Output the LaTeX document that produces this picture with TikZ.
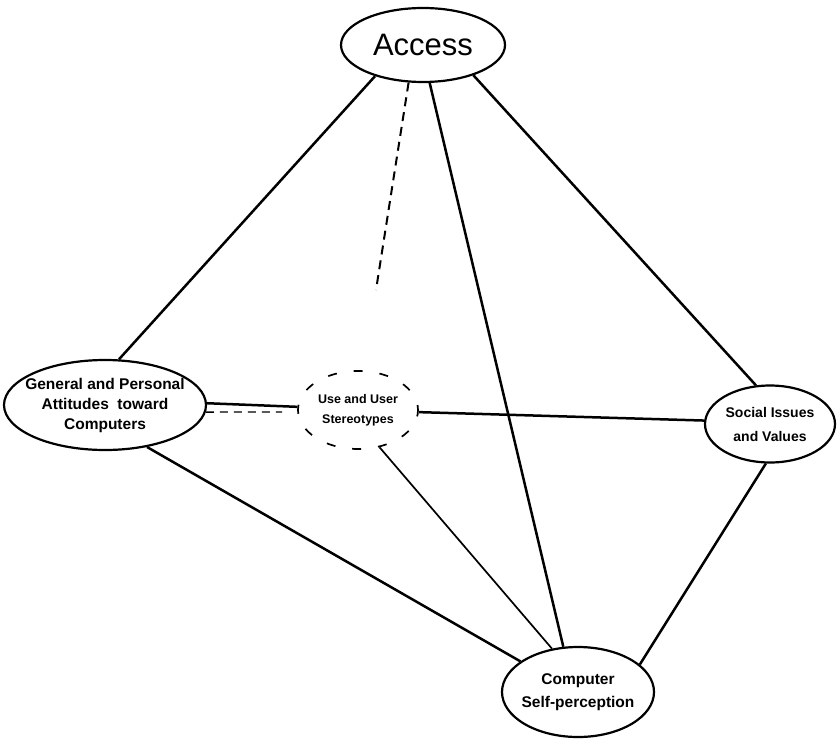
\documentclass[tikz,border=0pt]{standalone}
\usepackage{fontspec}
\setmainfont{Liberation Sans}
\usetikzlibrary{shapes.geometric}
\begin{document}
\begin{tikzpicture}[x=1pt,y=-1pt,
  oval/.style={ellipse,draw,line width=2.2pt,inner sep=0pt,align=center},
  link/.style={line width=2.5pt},
  thinlink/.style={line width=1.7pt},
  dashlink/.style={line width=2pt,dash pattern=on 9pt off 6pt}]
\useasboundingbox (0,0) rectangle (837,741);
\node[oval,minimum width=164pt,minimum height=74pt,font=\fontsize{31}{36}\selectfont] (acc) at (423,45) {Access};
\node[oval,inner xsep=-12pt,minimum width=202pt,minimum height=90pt,font=\bfseries\fontsize{15.5}{20}\selectfont] (gen) at (105,405) {General and Personal\\Attitudes\ \ toward\\Computers};
\node[ellipse,draw,line width=1.7pt,dash pattern=on 9pt off 17pt,dash phase=4pt,inner sep=0pt,align=center,minimum width=120pt,minimum height=78pt,font=\bfseries\fontsize{12.5}{20}\selectfont] (use) at (358,410) {Use and User\\Stereotypes};
\node[oval,minimum width=130pt,minimum height=77pt,font=\bfseries\fontsize{14}{24}\selectfont] (soc) at (770,424) {Social Issues\\and Values};
\node[oval,inner xsep=-6pt,minimum width=152pt,minimum height=90pt,font=\bfseries\fontsize{15.5}{23}\selectfont] (cmp) at (578,692) {Computer\\Self-perception};
\coordinate (dend) at (376,290);
\coordinate (gend) at (282,412);
\draw[link] (acc.213.4) -- (gen.73.9);
\draw[dashlink] (acc.249) -- (dend);
\draw[link] (acc.280.4) -- (cmp.108.4);
\draw[link] (acc.329.3) -- (soc.110.2);
\draw[link] (gen.1.7) -- (use.177);
\draw[line width=1.4pt,dash pattern=on 8pt off 6pt] (gen.356.6) -- (gend);
\draw[link] (use.358) -- (soc.177.3);
\draw[thinlink] (use.300.8) -- (cmp.121.5);
\draw[link] (gen.315) -- (cmp.152.6);
\draw[link] (soc.264.3) -- (cmp.24.2);
\end{tikzpicture}
\end{document}
